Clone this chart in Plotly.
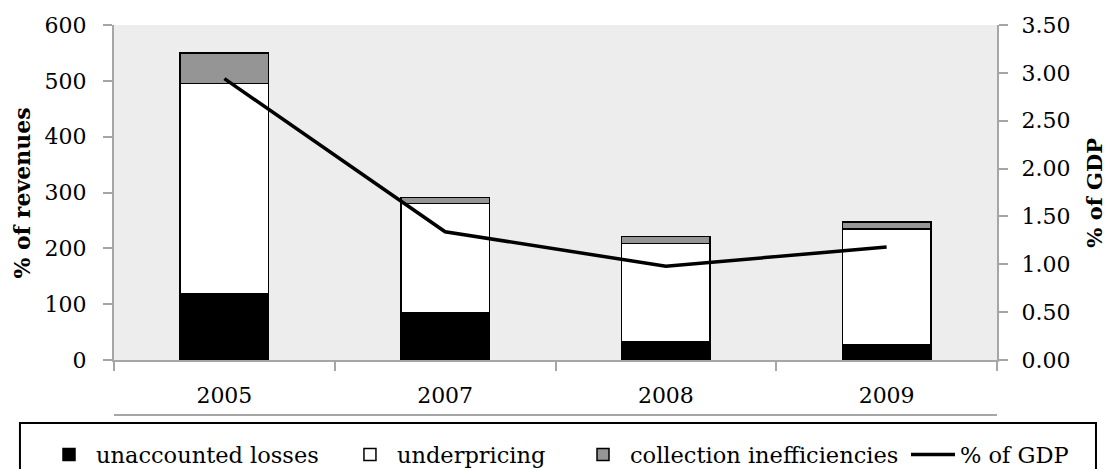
import plotly.graph_objects as go

years = ["2005", "2007", "2008", "2009"]
unaccounted_losses = [118, 85, 33, 28]
underpricing = [377, 195, 176, 207]
collection_ineff = [55, 11, 12, 12]
pct_gdp = [2.94, 1.34, 0.98, 1.18]

FONT = "DejaVu Serif"
AXIS_GRAY = "#a6a6a6"

fig = go.Figure()

# one legend per entry so each can sit where the reference puts it
fig.add_trace(go.Bar(
    x=years, y=unaccounted_losses, name="unaccounted losses", legend="legend",
    marker=dict(color="#000000", line=dict(color="#000000", width=1.5))
))
fig.add_trace(go.Bar(
    x=years, y=underpricing, name="underpricing", legend="legend2",
    marker=dict(color="#ffffff", line=dict(color="#000000", width=1.5))
))
fig.add_trace(go.Bar(
    x=years, y=collection_ineff, name="collection inefficiencies",
    legend="legend3",
    marker=dict(color="#959595", line=dict(color="#000000", width=1.5))
))
fig.add_trace(go.Scatter(
    x=years, y=pct_gdp, name="% of GDP", yaxis="y2", mode="lines",
    legend="legend4", line=dict(color="#000000", width=3.5)
))

# gray rule under the category labels, and the legend frame
fig.add_shape(type="line", xref="paper", yref="paper",
              x0=0, x1=1, y0=-0.164, y1=-0.164,
              line=dict(color=AXIS_GRAY, width=2))
fig.add_shape(type="rect", xref="paper", yref="paper",
              x0=-0.1065, x1=1.1121, y0=-0.188, y1=-0.40,
              line=dict(color="#000000", width=2))

# axis titles
fig.add_annotation(text="<b>% of revenues</b>", xref="paper", yref="paper",
                   x=-0.1042, y=0.5, xanchor="center", yanchor="middle",
                   textangle=-90, showarrow=False, font=dict(size=22))
fig.add_annotation(text="<b>% of GDP</b>", xref="paper", yref="paper",
                   x=1.11, y=0.5, xanchor="center", yanchor="middle",
                   textangle=-90, showarrow=False, font=dict(size=21))

leg = dict(orientation="h", xref="container", yref="container",
           xanchor="left", y=0.0304, yanchor="middle",
           bgcolor="rgba(0,0,0,0)", font=dict(family=FONT, size=22.5),
           itemwidth=44)

# page body adds 8px, so the figure is 8px smaller than the window
fig.update_layout(
    width=1104, height=461,
    margin=dict(l=106, r=115, t=17, b=109),
    showlegend=True,
    barmode="stack", bargap=0.6,
    plot_bgcolor="#ededed", paper_bgcolor="#ffffff",
    font=dict(family=FONT, size=22, color="#000000"),
    xaxis=dict(
        type="category", tickson="boundaries", ticks="outside", ticklen=9,
        tickcolor=AXIS_GRAY, tickwidth=2, showline=True, linecolor=AXIS_GRAY,
        linewidth=2, showgrid=False, ticklabelstandoff=15, automargin=False
    ),
    yaxis=dict(
        range=[0, 600], dtick=100, ticks="outside", ticklen=9,
        tickcolor=AXIS_GRAY, tickwidth=2, showline=True, linecolor=AXIS_GRAY,
        linewidth=2, showgrid=False, zeroline=False, ticklabelstandoff=12,
        automargin=False
    ),
    yaxis2=dict(
        range=[0, 3.5], dtick=0.5, tickformat=".2f", overlaying="y",
        side="right", ticks="outside", ticklen=9, tickcolor=AXIS_GRAY,
        tickwidth=2, showline=True, linecolor=AXIS_GRAY, linewidth=2,
        showgrid=False, zeroline=False, ticklabelstandoff=9,
        automargin=False
    ),
    legend=dict(leg, x=0.0308),
    legend2=dict(leg, x=0.3034),
    legend3=dict(leg, x=0.5145),
    legend4=dict(leg, x=0.8134),
)

fig.write_html("out.html")
